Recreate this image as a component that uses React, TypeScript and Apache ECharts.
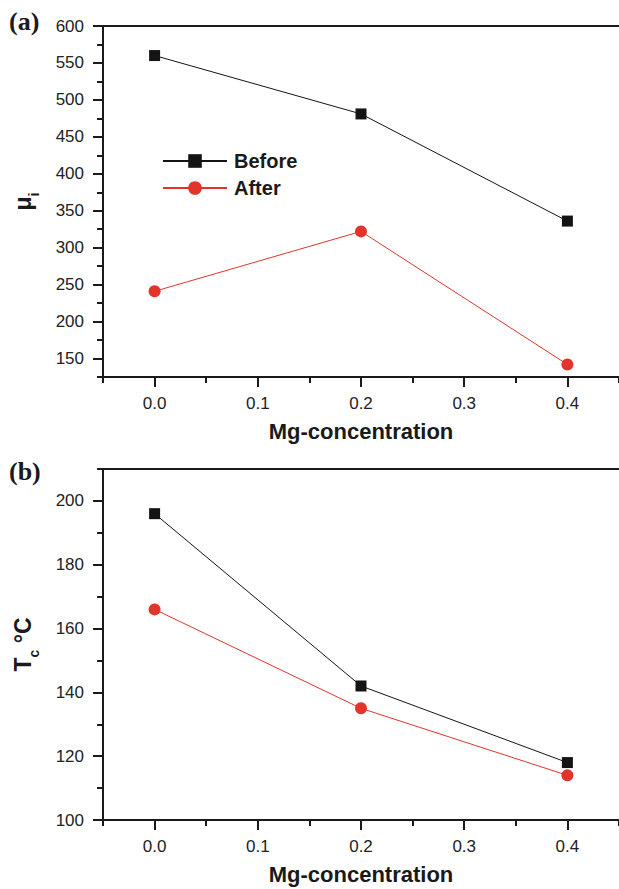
import React, { useEffect, useRef } from "react";
import * as echarts from "echarts";

const concentrations = [0, 0.2, 0.4];
const muBefore = [560, 481, 336];
const muAfter = [241, 322, 142];
const tcBefore = [196, 142, 118];
const tcAfter = [166, 135, 114];

const xMajor = [0, 0.1, 0.2, 0.3, 0.4];
const xMinor = [-0.05, 0.05, 0.15, 0.25, 0.35, 0.45];
const muMajor = [150, 200, 250, 300, 350, 400, 450, 500, 550, 600];
const muMinor = [125, 175, 225, 275, 325, 375, 425, 475, 525, 575];
const tcMajor = [100, 120, 140, 160, 180, 200];
const tcMinor = [110, 130, 150, 170, 190, 210];

const seriesNames = ["Before", "After"];
const panelLabels = ["(a)", "(b)"];
const xName = "Mg-concentration";

const SANS = "Liberation Sans, Arial, Helvetica, sans-serif";
const AXIS_COLOR = "#1a1a1a";
const BLACK = "#141414";
const RED = "#e2342a";

const pairs = (xs: number[], ys: number[]) => xs.map((x, i) => [x, ys[i]]);

export default function App() {
  const ref = useRef<HTMLDivElement>(null);
  useEffect(() => {
    if (!ref.current) return;
    const chart = echarts.init(ref.current, null, { renderer: "svg" });

    const axisLine = { show: true, onZero: false, lineStyle: { color: AXIS_COLOR, width: 2 } };
    const noLine = { show: false, onZero: false };
    const labelStyle = { color: "#222", fontFamily: SANS, fontSize: 17 };

    const makeX = (grid: number, withName: boolean) => [
      {
        type: "value",
        gridIndex: grid,
        position: "bottom",
        min: -0.05,
        max: 0.45,
        axisLine,
        splitLine: { show: false },
        axisTick: { show: true, length: 10, customValues: xMajor, lineStyle: { color: AXIS_COLOR, width: 2 } },
        axisLabel: { ...labelStyle, margin: 18, customValues: xMajor, formatter: (v: number) => v.toFixed(1) },
        name: withName ? xName : "",
        nameLocation: "middle",
        nameGap: 43,
        nameTextStyle: { fontFamily: SANS, fontWeight: "bold", fontSize: 22, color: "#1a1a1a" },
      },
      {
        type: "value",
        gridIndex: grid,
        position: "bottom",
        min: -0.05,
        max: 0.45,
        axisLine: noLine,
        splitLine: { show: false },
        axisTick: { show: true, length: 6, customValues: xMinor, lineStyle: { color: AXIS_COLOR, width: 2 } },
        axisLabel: { show: false },
      },
      {
        type: "value",
        gridIndex: grid,
        position: "top",
        min: -0.05,
        max: 0.45,
        axisLine,
        splitLine: { show: false },
        axisTick: { show: false },
        axisLabel: { show: false },
      },
    ];

    const makeY = (grid: number, min: number, max: number, major: number[], minor: number[], name: string, rich: any) => [
      {
        type: "value",
        gridIndex: grid,
        position: "left",
        min,
        max,
        axisLine,
        splitLine: { show: false },
        axisTick: { show: true, length: 10, customValues: major, lineStyle: { color: AXIS_COLOR, width: 2 } },
        axisLabel: { ...labelStyle, margin: 19, customValues: major },
        name,
        nameLocation: "middle",
        nameGap: 62,
        nameTextStyle: { rich },
      },
      {
        type: "value",
        gridIndex: grid,
        position: "left",
        min,
        max,
        axisLine: noLine,
        splitLine: { show: false },
        axisTick: { show: true, length: 6, customValues: minor, lineStyle: { color: AXIS_COLOR, width: 2 } },
        axisLabel: { show: false },
      },
    ];

    const rich = {
      a: { fontFamily: SANS, fontWeight: "bold", fontSize: 23, color: "#1a1a1a", padding: [0, 0, 7, 0] },
      b: { fontFamily: SANS, fontWeight: "bold", fontSize: 14, color: "#1a1a1a", verticalAlign: "bottom" },
    };

    const lineSeries = (name: string, xi: number, yi: number, data: number[][], color: string, symbol: string, size: number) => ({
      type: "line",
      name,
      xAxisIndex: xi,
      yAxisIndex: yi,
      data,
      symbol,
      symbolSize: size,
      itemStyle: { color },
      lineStyle: { color, width: 1 },
      z: 5,
    });

    const titleStyle = { fontFamily: "Liberation Serif, Times New Roman, serif", fontWeight: "bold", fontSize: 26, color: "#1a1a1a" };

    chart.setOption({
      animation: false,
      backgroundColor: "#ffffff",
      title: [
        { text: panelLabels[0], left: 9, top: 8, padding: 0, textStyle: titleStyle },
        { text: panelLabels[1], left: 9, top: 458, padding: 0, textStyle: titleStyle },
      ],
      legend: {
        data: seriesNames,
        orient: "vertical",
        left: 162,
        top: 151,
        padding: 0,
        itemWidth: 64,
        itemHeight: 17,
        itemGap: 7,
        textStyle: { fontFamily: SANS, fontWeight: "bold", fontSize: 20, color: "#1a1a1a", lineHeight: 20, padding: [0, 0, 0, 2] },
      },
      grid: [
        { left: 103, top: 26, width: 525, height: 351, containLabel: false },
        { left: 103, top: 469, width: 525, height: 351, containLabel: false },
      ],
      xAxis: [...makeX(0, true), ...makeX(1, true)],
      yAxis: [
        ...makeY(0, 125, 600, muMajor, muMinor, "{a|μ}{b|i}", rich),
        ...makeY(1, 100, 210, tcMajor, tcMinor, "{a|T}{b|c}{a| °C}", rich),
      ],
      series: [
        lineSeries(seriesNames[0], 0, 0, pairs(concentrations, muBefore), BLACK, "rect", 11),
        lineSeries(seriesNames[1], 0, 0, pairs(concentrations, muAfter), RED, "circle", 12),
        lineSeries(seriesNames[0], 3, 2, pairs(concentrations, tcBefore), BLACK, "rect", 11),
        lineSeries(seriesNames[1], 3, 2, pairs(concentrations, tcAfter), RED, "circle", 12),
      ],
    });
    return () => chart.dispose();
  }, []);
  return <div ref={ref} style={{ position: "absolute", left: 0, top: 0, width: 619, height: 889 }} />;
}
